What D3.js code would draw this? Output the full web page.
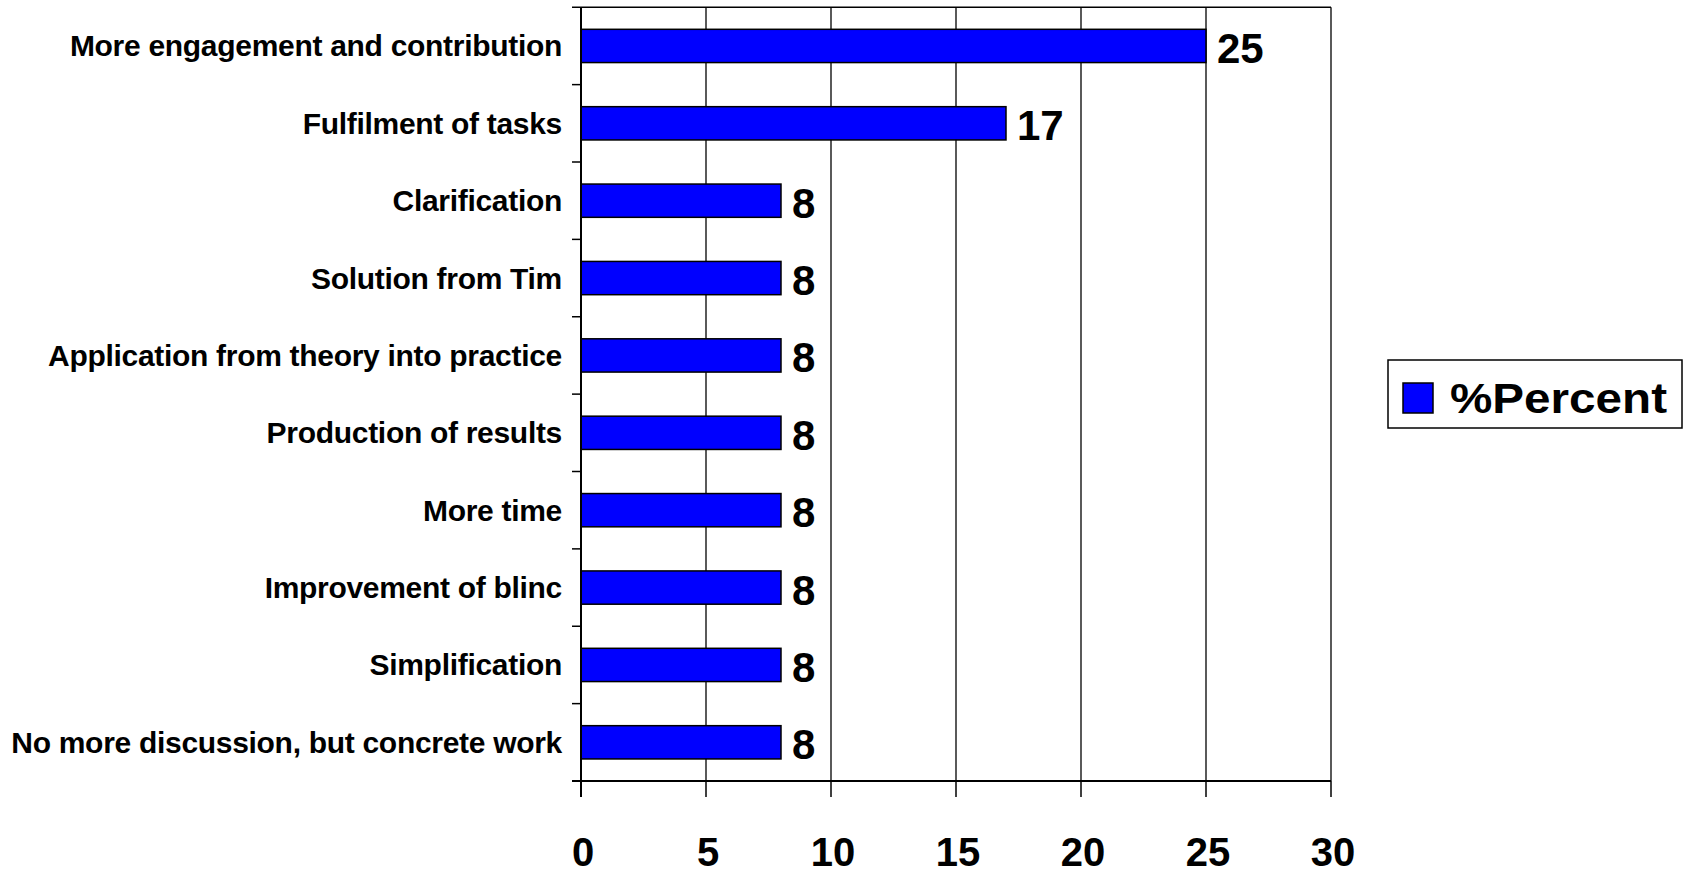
<!DOCTYPE html>
<html>
<head>
<meta charset="utf-8">
<script src="https://cdn.jsdelivr.net/npm/d3@7"></script>
<style>
  html, body { margin: 0; padding: 0; background: #fff; }
  svg { display: block; font-family: "Liberation Sans", Arial, sans-serif; font-weight: bold; }
</style>
</head>
<body>
<svg id="chart" width="1690" height="874"></svg>
<script>
const categories = [
  "More engagement and contribution",
  "Fulfilment of tasks",
  "Clarification",
  "Solution from Tim",
  "Application from theory into practice",
  "Production of results",
  "More time",
  "Improvement of blinc",
  "Simplification",
  "No more discussion, but concrete work"
];
const percentValues = [25, 17, 8, 8, 8, 8, 8, 8, 8, 8];
const xTicks = [0, 5, 10, 15, 20, 25, 30];
const seriesName = "%Percent";

(function () {
const svg = d3.select("#chart");
svg.append("rect").attr("width", 1690).attr("height", 874).attr("fill", "#fff");

const pLeft = 581, pRight = 1331, pTop = 7.25, pBottom = 781;
const x = d3.scaleLinear().domain([0, 30]).range([pLeft, pRight]);
const y = d3.scaleBand().domain(categories).range([pTop, pBottom]).padding(0);
const barH = y.bandwidth() * 0.43;

// vertical gridlines
svg.append("g").selectAll("line").data(xTicks.slice(1)).join("line")
  .attr("x1", d => x(d)).attr("x2", d => x(d))
  .attr("y1", pTop).attr("y2", pBottom)
  .attr("stroke", "#000").attr("stroke-width", 1.3);
// top border
svg.append("line").attr("x1", pLeft).attr("x2", pRight).attr("y1", pTop).attr("y2", pTop)
  .attr("stroke", "#000").attr("stroke-width", 1.3);

// bars
svg.append("g").selectAll("rect").data(categories).join("rect")
  .attr("x", x(0))
  .attr("y", (d) => y(d) + y.bandwidth() / 2 - barH / 2)
  .attr("width", (d, i) => x(percentValues[i]) - x(0))
  .attr("height", barH)
  .attr("fill", "#0000ff")
  .attr("stroke", "#000").attr("stroke-width", 1.5);

// value labels
svg.append("g").selectAll("text").data(categories).join("text")
  .attr("x", (d, i) => x(percentValues[i]) + 11)
  .attr("y", d => y(d) + y.bandwidth() / 2 + 17)
  .attr("font-size", 42)
  .attr("fill", "#000")
  .text((d, i) => percentValues[i]);

// y axis
const yAxis = svg.append("g");
yAxis.append("line").attr("x1", pLeft).attr("x2", pLeft).attr("y1", pTop).attr("y2", pBottom + 16)
  .attr("stroke", "#000").attr("stroke-width", 2);
const boundaries = categories.map(c => y(c)).concat([pBottom]);
yAxis.selectAll("line.tk").data(boundaries).join("line").attr("class", "tk")
  .attr("x1", pLeft - 9).attr("x2", pLeft).attr("y1", d => d).attr("y2", d => d)
  .attr("stroke", "#000").attr("stroke-width", 1.5);
yAxis.selectAll("text").data(categories).join("text")
  .attr("x", pLeft - 19)
  .attr("y", d => y(d) + y.bandwidth() / 2 + 10.5)
  .attr("text-anchor", "end")
  .attr("font-size", 30)
  .attr("letter-spacing", -0.3)
  .attr("fill", "#000")
  .text(d => d);

// x axis
const xAxis = svg.append("g");
xAxis.append("line").attr("x1", pLeft - 9).attr("x2", pRight).attr("y1", pBottom).attr("y2", pBottom)
  .attr("stroke", "#000").attr("stroke-width", 2);
xAxis.selectAll("line.tk").data(xTicks).join("line").attr("class", "tk")
  .attr("x1", d => x(d)).attr("x2", d => x(d)).attr("y1", pBottom).attr("y2", pBottom + 16)
  .attr("stroke", "#000").attr("stroke-width", 1.5);
xAxis.selectAll("text").data(xTicks).join("text")
  .attr("x", d => x(d) + 2)
  .attr("y", 866)
  .attr("text-anchor", "middle")
  .attr("font-size", 40)
  .attr("fill", "#000")
  .text(d => d);

// legend
const lg = svg.append("g");
lg.append("rect").attr("x", 1388).attr("y", 360).attr("width", 294).attr("height", 68)
  .attr("fill", "#fff").attr("stroke", "#000").attr("stroke-width", 1.5);
lg.append("rect").attr("x", 1403).attr("y", 383).attr("width", 30).attr("height", 30)
  .attr("fill", "#0000ff").attr("stroke", "#000").attr("stroke-width", 1.5);
lg.append("text").attr("x", 1450).attr("y", 413)
  .attr("font-size", 42).attr("fill", "#000")
  .attr("textLength", 217).attr("lengthAdjust", "spacingAndGlyphs")
  .text(seriesName);
})();
</script>
</body>
</html>
